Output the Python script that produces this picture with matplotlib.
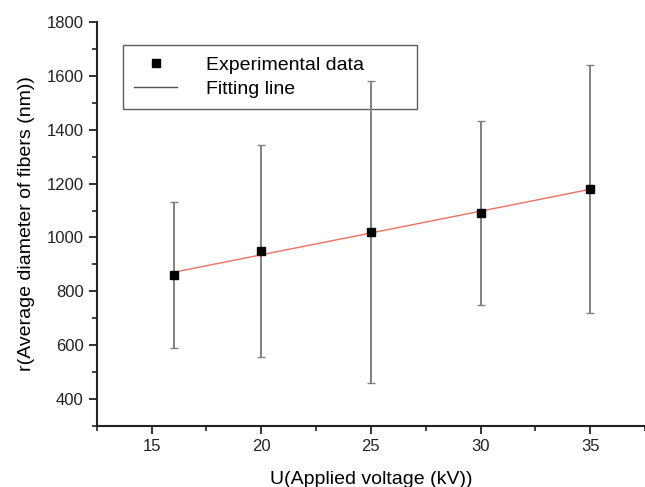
import numpy as np
import matplotlib.pyplot as plt
from matplotlib.ticker import MultipleLocator

# data
voltage = np.array([16, 20, 25, 30, 35])
diameter = np.array([860, 950, 1020, 1090, 1180])
err = np.array([270, 392, 560, 342, 460])

slope, intercept = np.polyfit(voltage, diameter, 1)
xfit = np.array([voltage.min(), voltage.max()])

plt.rcParams['font.family'] = ['Liberation Sans', 'DejaVu Sans']

fig = plt.figure(figsize=(6.45, 4.87), dpi=100)
ax = fig.add_axes([0.150, 0.125, 0.85, 0.830])

ax.errorbar(voltage, diameter, yerr=err, fmt='none', ecolor='#808080',
            elinewidth=1.4, capsize=3, capthick=1.0, zorder=6)
ax.plot(xfit, intercept + slope * xfit, color='#f07060', lw=1.0,
        label='Fitting line', zorder=7)
ax.plot(voltage, diameter, 's', color='black', ms=6, ls='none',
        label='Experimental data', zorder=8)

ax.set_xlim(12.5, 37.5)
ax.set_ylim(300, 1800)
ax.xaxis.set_minor_locator(MultipleLocator(2.5))
ax.yaxis.set_minor_locator(MultipleLocator(100))
ax.set_yticks(np.arange(400, 1801, 200))
ax.set_xticks([15, 20, 25, 30, 35])

for s in ['top', 'right']:
    ax.spines[s].set_visible(False)
for s in ['left', 'bottom']:
    ax.spines[s].set_linewidth(1.5)
    ax.spines[s].set_color('#222222')

ax.tick_params(which='major', direction='out', length=6, width=1.3,
               labelsize=12, colors='#222222')
ax.tick_params(which='minor', direction='out', length=3.5, width=1.2,
               colors='#222222')

ax.set_xlabel('U(Applied voltage (kV))', fontsize=14, labelpad=12)
ax.set_ylabel('r(Average diameter of fibers (nm))', fontsize=14, labelpad=8)

handles, labels = ax.get_legend_handles_labels()
leg = ax.legend(handles[::-1], labels[::-1], loc='upper left',
                bbox_to_anchor=(0.047, 0.943, 0.538, 0.0), mode='expand',
                fontsize=14, frameon=True, fancybox=False,
                edgecolor='#333333', handlelength=2.2, borderpad=0.6,
                labelspacing=0.3, handletextpad=1.5, borderaxespad=0)
leg.set_zorder(5)
leg.get_frame().set_linewidth(1.0)
leg.legend_handles[1].set_color('#555555')

fig.savefig('out.png', dpi=100)
